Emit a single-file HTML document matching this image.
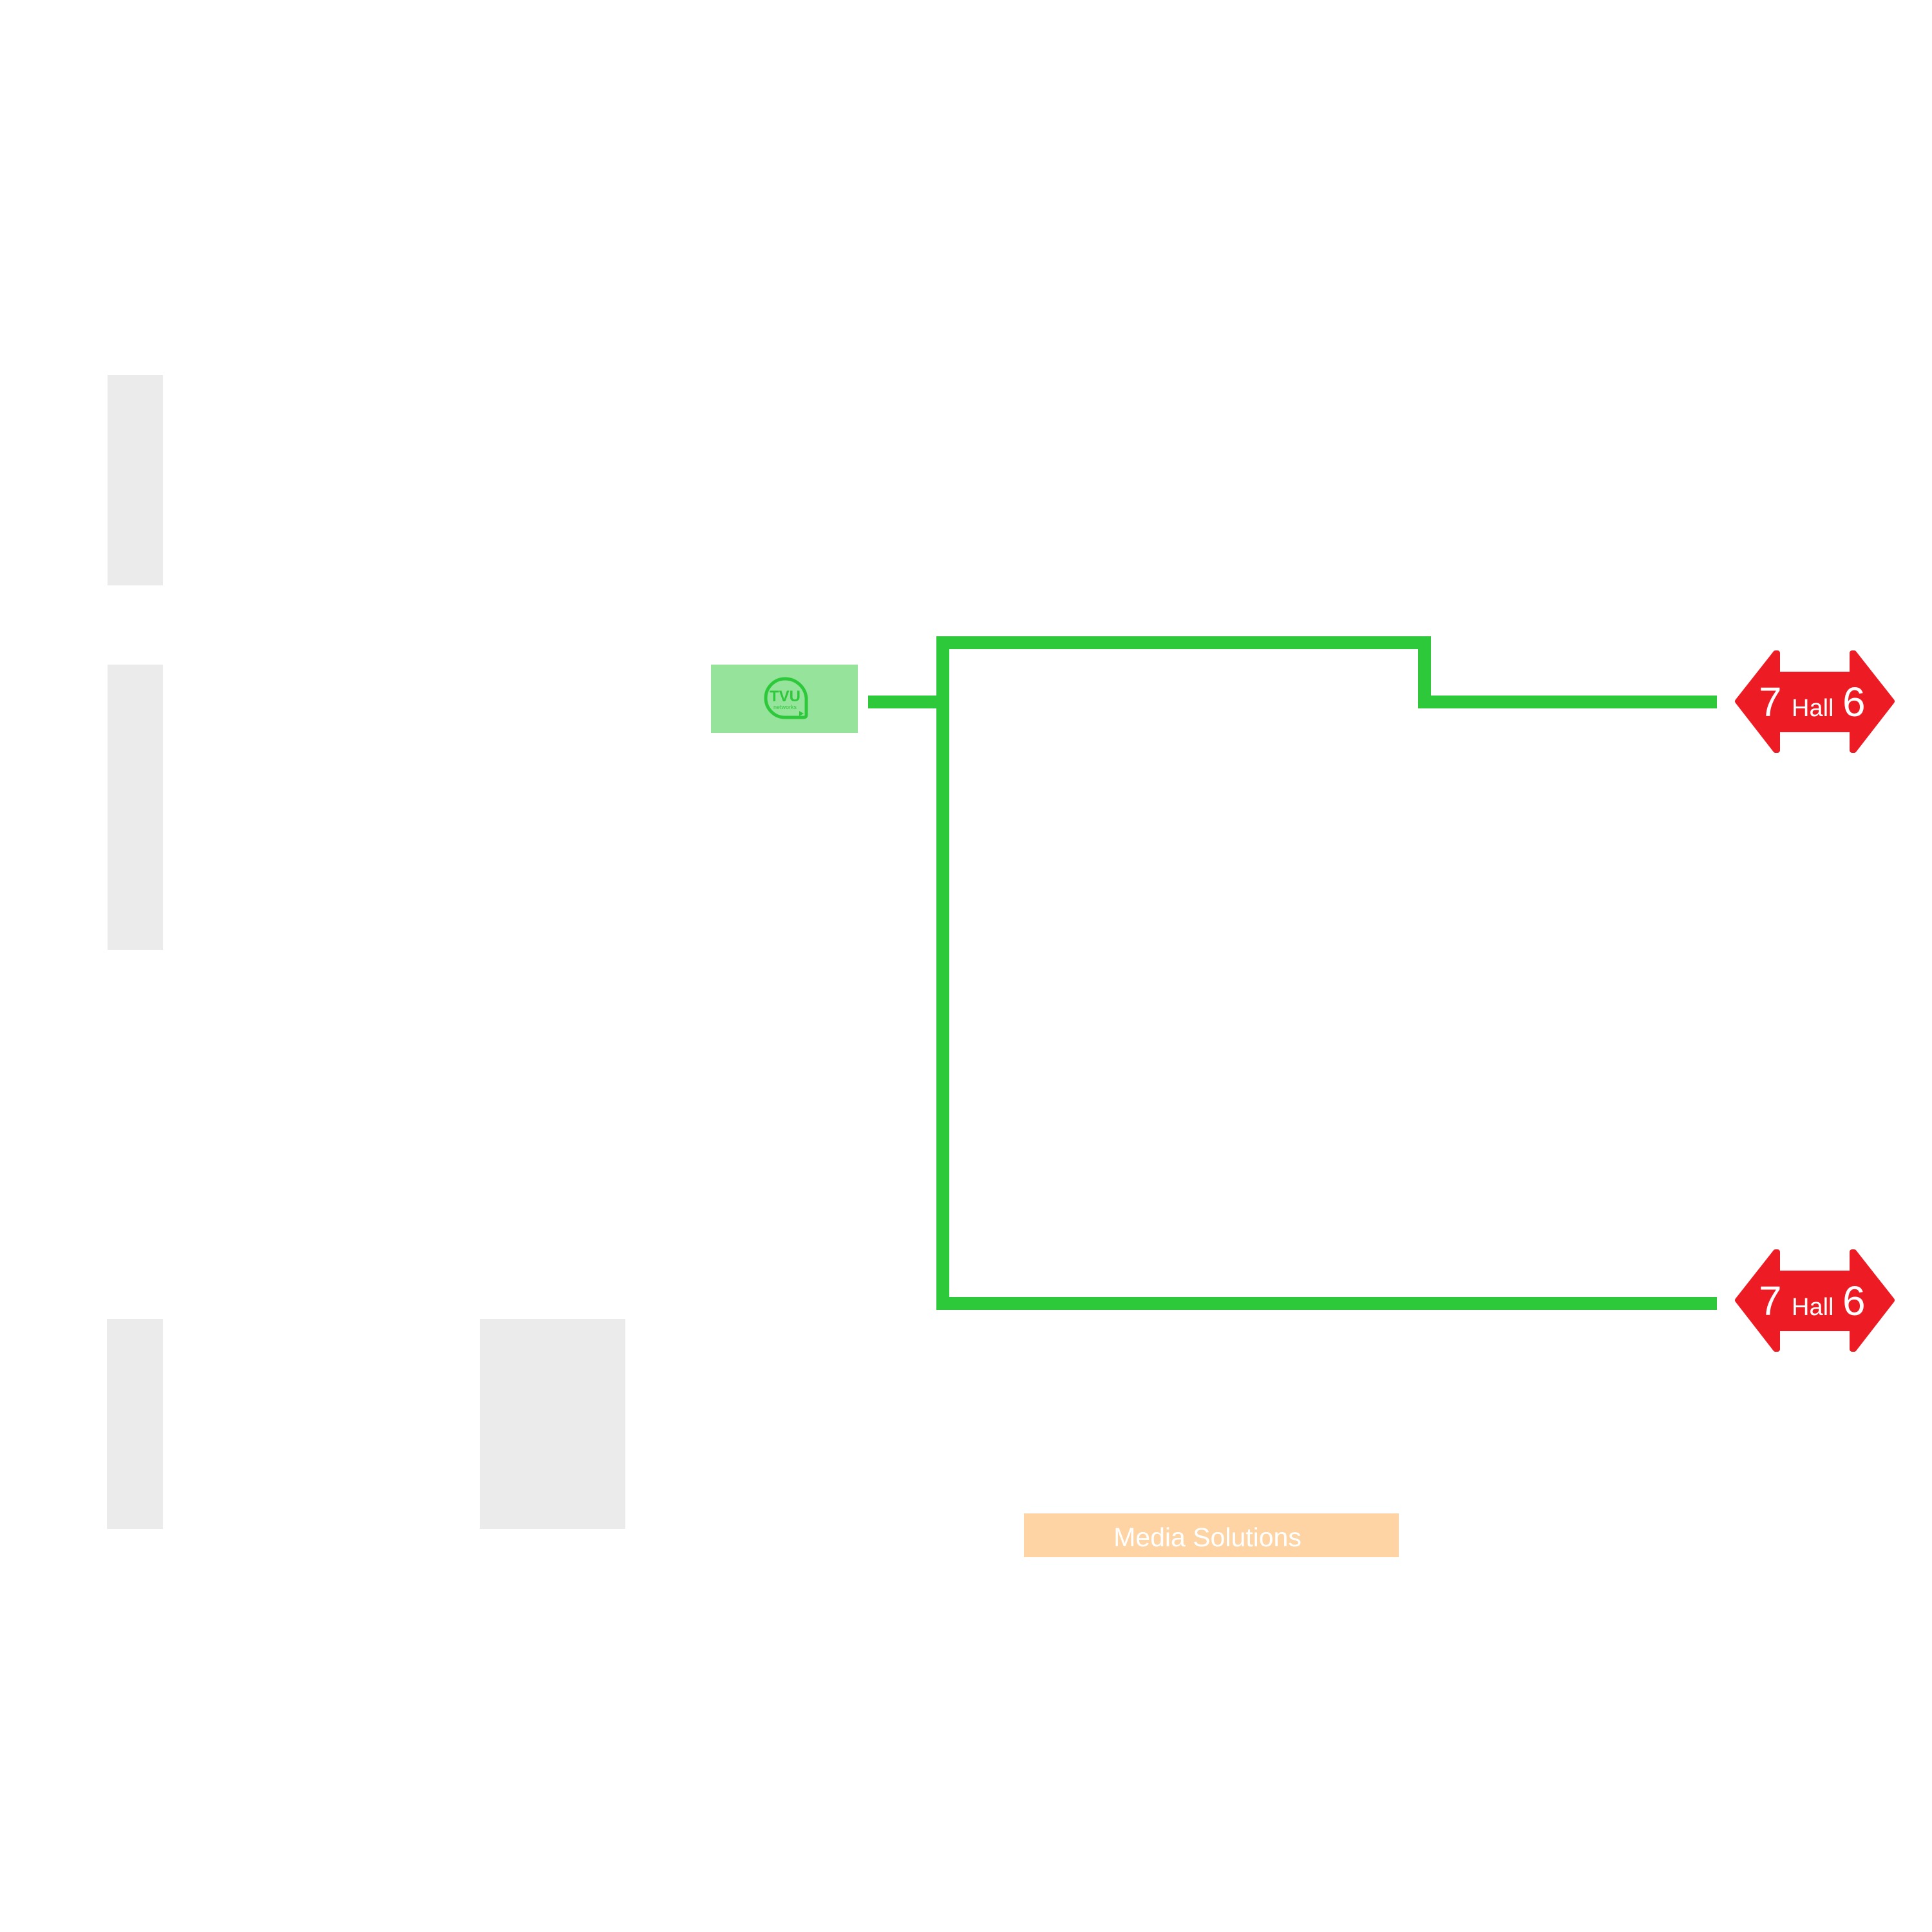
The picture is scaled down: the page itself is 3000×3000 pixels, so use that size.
<!DOCTYPE html>
<html><head><meta charset="utf-8"><style>
html,body{margin:0;padding:0;background:#fff;}
svg{display:block;}
</style></head><body>
<svg width="3000" height="3000" viewBox="0 0 3000 3000" xmlns="http://www.w3.org/2000/svg">
<rect x="0" y="0" width="3000" height="3000" fill="#fff"/>
<rect x="167" y="582" width="86" height="327" fill="#ebebeb"/>
<rect x="167" y="1032" width="86" height="443" fill="#ebebeb"/>
<rect x="166" y="2048" width="87" height="326" fill="#ebebeb"/>
<rect x="745" y="2048" width="226" height="326" fill="#ebebeb"/>
<rect x="1104" y="1032" width="228" height="106" fill="#96e39b"/>
<g fill="none" stroke="#2dc93b" stroke-width="20" stroke-linejoin="miter">
<path d="M1348 1090 H1464"/>
<path d="M2666 1090 H2212 V998 H1464 V2024 H2666"/>
</g>
<path d="M1219 1054 A30 30 0 0 0 1219 1114 H1248 Q1252 1114 1252 1110 V1084 A33 33 0 0 0 1219 1054 Z" fill="none" stroke="#2dc93b" stroke-width="5"/>
<path d="M1241 1104 l7 4 l-7 4 z" fill="#2dc93b"/>
<text x="1219" y="1089" font-family="Liberation Sans, sans-serif" font-weight="bold" font-size="24" fill="#2dc93b" text-anchor="middle">TVU</text>
<text x="1219" y="1101" font-family="Liberation Sans, sans-serif" font-size="9" fill="#2dc93b" text-anchor="middle">networks</text>
<g fill="#ed1c24" stroke="#ed1c24" stroke-width="8" stroke-linejoin="round">
<path d="M2698 1089 L2757 1014 L2760 1014 L2760 1047 L2876 1047 L2876 1014 L2879 1014 L2938 1089 L2879 1165 L2876 1165 L2876 1133 L2760 1133 L2760 1165 L2757 1165 Z"/>
<path d="M2698 2019 L2757 1944 L2760 1944 L2760 1977 L2876 1977 L2876 1944 L2879 1944 L2938 2019 L2879 2095 L2876 2095 L2876 2063 L2760 2063 L2760 2095 L2757 2095 Z"/>
</g>
<g font-family="Liberation Sans, sans-serif" fill="#fff">
<text x="2731" y="1112" font-size="64">7</text>
<text x="2782" y="1112" font-size="38">Hall</text>
<text x="2861" y="1112" font-size="64">6</text>
<text x="2731" y="2042" font-size="64">7</text>
<text x="2782" y="2042" font-size="38">Hall</text>
<text x="2861" y="2042" font-size="64">6</text>
</g>
<rect x="1590" y="2350" width="582" height="68" fill="#fed4a4"/>
<text x="1875" y="2401" font-family="Liberation Sans, sans-serif" font-size="41" fill="#fff" text-anchor="middle">Media Solutions</text>
</svg>
</body></html>
